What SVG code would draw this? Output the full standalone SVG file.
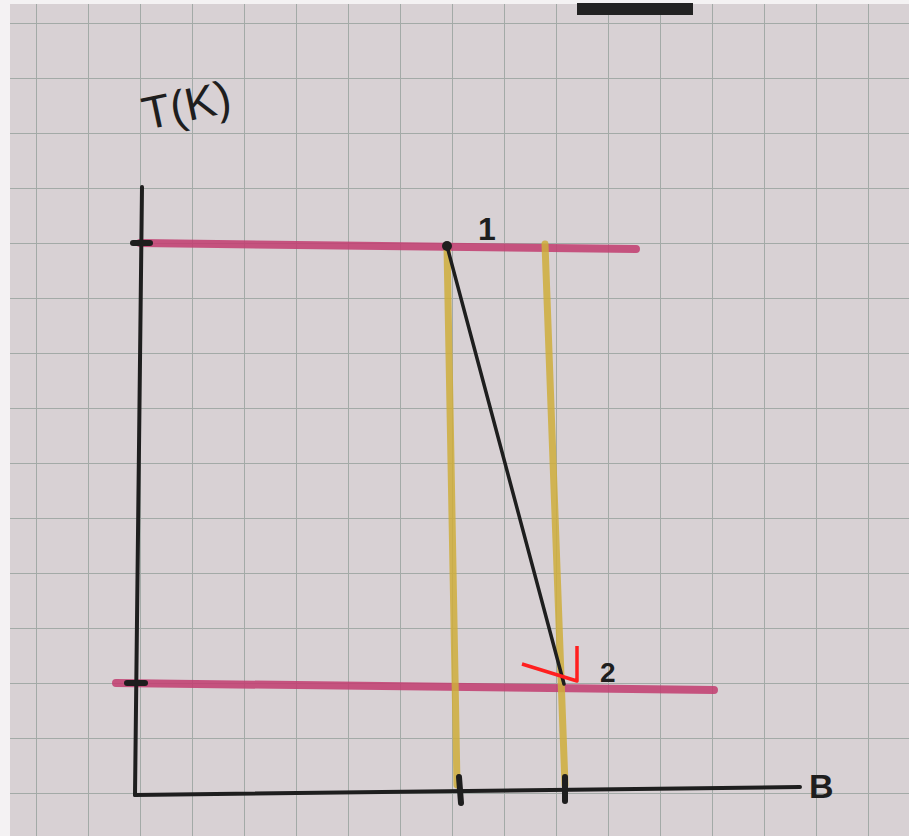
<svg xmlns="http://www.w3.org/2000/svg" width="909" height="836" viewBox="0 0 909 836">
  <defs>
    <pattern id="grid" x="36" y="23" width="52" height="55" patternUnits="userSpaceOnUse">
      <path d="M0 0 V55 M0 0 H52" fill="none" stroke="#a3aaa7" stroke-width="2"/>
    </pattern>
  </defs>
  <style>
    .ink { stroke: #1e1e1e; stroke-linecap: round; fill: none; }
    .pink { stroke: #c23d70; stroke-width: 8; stroke-linecap: round; opacity: 0.85; }
    .yellow { stroke: #cfae3c; stroke-width: 7; stroke-linecap: round; opacity: 0.85; }
    .lbl { font-family: "Liberation Sans", "DejaVu Sans", sans-serif; fill: #1e1e1e; }
  </style>
  <rect width="909" height="836" fill="#f4f2f3"/>
  <rect x="10" y="4" width="899" height="832" fill="#d8d1d4"/>
  <rect x="10" y="4" width="899" height="832" fill="url(#grid)"/>
  <rect x="577" y="3" width="116" height="12" fill="#222"/>

  <g id="connectors">
    <line class="pink" x1="140" y1="243" x2="636" y2="249"/>
    <line class="pink" x1="116" y1="683" x2="714" y2="690"/>
    <line class="yellow" x1="447" y1="246" x2="457" y2="785"/>
    <line class="yellow" x1="545" y1="244" x2="565" y2="785"/>
    <line class="ink" stroke-width="3.5" x1="447" y1="246" x2="564" y2="684"/>
    <polyline points="522,664 577,681 577,646" fill="none" stroke="#ff1f1f" stroke-width="3.5" stroke-linejoin="round"/>
  </g>

  <g id="axes">
    <line class="ink" stroke-width="4" x1="142" y1="187" x2="135" y2="795"/>
    <line class="ink" stroke-width="4" x1="135" y1="795" x2="800" y2="787"/>
    <line class="ink" stroke-width="6" x1="459" y1="777" x2="461" y2="803"/>
    <line class="ink" stroke-width="6" x1="565" y1="777" x2="565" y2="801"/>
    <line class="ink" stroke-width="6" x1="133" y1="243" x2="150" y2="243"/>
    <line class="ink" stroke-width="6" x1="127" y1="683" x2="145" y2="683"/>
  </g>

  <g id="point1">
    <circle cx="447" cy="246" r="5" fill="#1e1e1e"/>
    <text class="lbl" x="478" y="240" font-size="32" font-weight="bold">1</text>
  </g>
  <g id="point2">
    <text class="lbl" x="600" y="682" font-size="28" font-weight="bold">2</text>
  </g>
  <g id="label-T">
    <text class="lbl" x="146" y="130" font-size="46" transform="rotate(-12 146 130)">T(K)</text>
  </g>
  <g id="label-B">
    <text class="lbl" x="809" y="798" font-size="34" font-weight="bold">B</text>
  </g>
</svg>
